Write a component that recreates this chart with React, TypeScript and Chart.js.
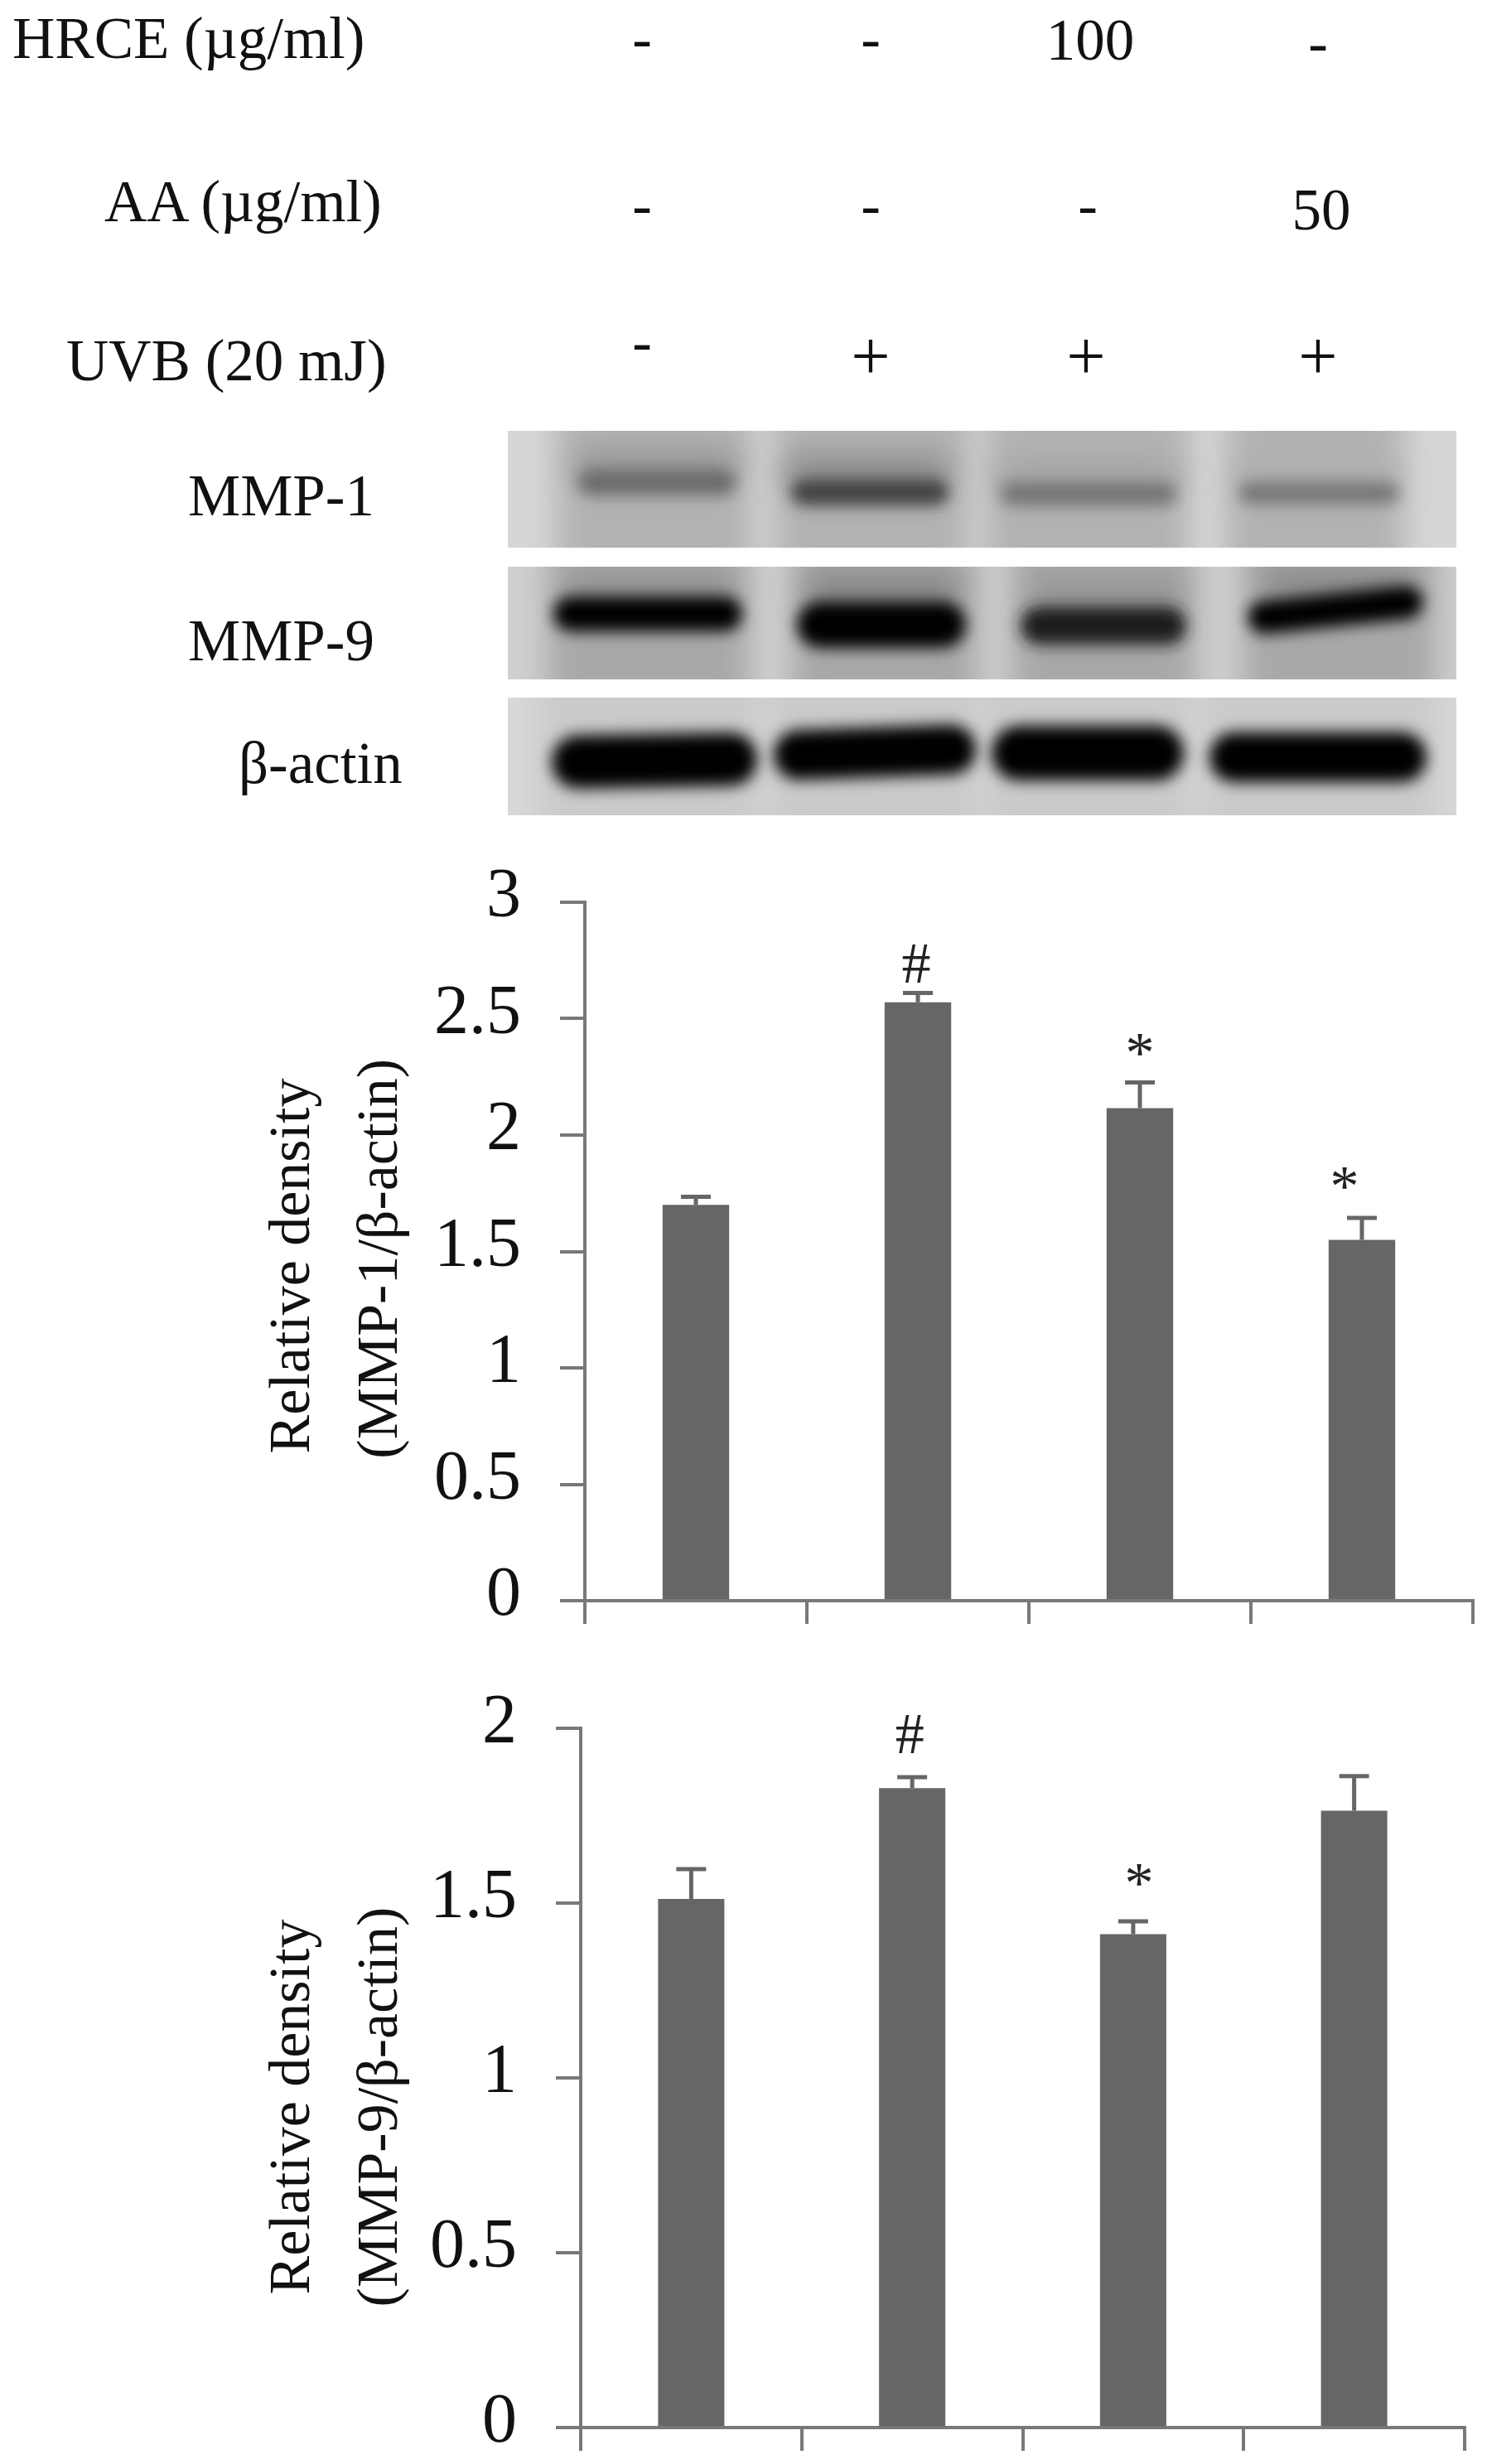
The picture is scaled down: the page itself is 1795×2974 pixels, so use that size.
import React, { useEffect, useRef } from "react";
import { Chart, registerables } from "chart.js";

Chart.register(...registerables);

const SERIF = '"Liberation Serif", "Times New Roman", serif';

const treatments = ["Control", "UVB", "UVB + HRCE", "UVB + AA"];

const mmp1Values = [1.7, 2.57, 2.116, 1.55];
const mmp1ErrorTops = [1.735, 2.61, 2.226, 1.644];
const mmp1Marks = ["", "#", "*", "*"];
const mmp1MarkLevels = [0, 2.719, 2.335, 1.762];
const mmp1MarkShift = [0, -2, 0, -21];
const mmp1Ticks = [0, 0.5, 1, 1.5, 2, 2.5, 3];
const mmp1Title = ["Relative density", "(MMP-1/β-actin)"];

const mmp9Values = [1.512, 1.829, 1.411, 1.764];
const mmp9ErrorTops = [1.597, 1.86, 1.448, 1.863];
const mmp9Marks = ["", "#", "*", ""];
const mmp9MarkLevels = [0, 1.972, 1.547, 0];
const mmp9MarkShift = [0, -3, 7, 0];
const mmp9Ticks = [0, 0.5, 1, 1.5, 2];
const mmp9Title = ["Relative density", "(MMP-9/β-actin)"];

const hrceRow = ["-", "-", "100", "-"];
const aaRow = ["-", "-", "-", "50"];
const uvbRow = ["-", "+", "+", "+"];

type Labels = { x: number; y: number; t: string; size?: number; anchor?: string };

const topTexts: Labels[] = [
  { x: 15, y: 70, t: "HRCE (µg/ml)" },
  { x: 126, y: 267, t: "AA (µg/ml)" },
  { x: 80, y: 459, t: "UVB (20 mJ)" },
  { x: 227, y: 622, t: "MMP-1" },
  { x: 227, y: 797, t: "MMP-9" },
  { x: 288, y: 945, t: "β-actin" },
  { x: 775, y: 70, t: hrceRow[0], anchor: "middle" },
  { x: 1051, y: 70, t: hrceRow[1], anchor: "middle" },
  { x: 1316, y: 72, t: hrceRow[2], anchor: "middle" },
  { x: 1591, y: 75, t: hrceRow[3], anchor: "middle" },
  { x: 775, y: 271, t: aaRow[0], anchor: "middle" },
  { x: 1051, y: 271, t: aaRow[1], anchor: "middle" },
  { x: 1313, y: 271, t: aaRow[2], anchor: "middle" },
  { x: 1595, y: 277, t: aaRow[3], anchor: "middle" },
  { x: 775, y: 436, t: uvbRow[0], anchor: "middle" },
  { x: 1051, y: 458, t: uvbRow[1], anchor: "middle", size: 84 },
  { x: 1311, y: 458, t: uvbRow[2], anchor: "middle", size: 84 },
  { x: 1591, y: 458, t: uvbRow[3], anchor: "middle", size: 84 },
];

type Band = { x: number; y: number; w: number; h: number; c: string; tilt?: number };
type Panel = { y: number; h: number; bg: string; smear: string; lanes: number[][]; halo: Band[]; bands: Band[] };

const panels: Panel[] = [
  {
    y: 520, h: 141, bg: "#d6d6d6", smear: "#b2b2b2",
    lanes: [[672, 235], [935, 235], [1190, 245], [1480, 215]],
    halo: [
      { x: 695, y: 545, w: 195, h: 32, c: "#939393" },
      { x: 950, y: 552, w: 195, h: 34, c: "#858585" },
      { x: 1205, y: 560, w: 215, h: 30, c: "#a0a0a0" },
      { x: 1492, y: 566, w: 195, h: 26, c: "#acacac" },
    ],
    bands: [
      { x: 698, y: 566, w: 190, h: 32, c: "#6c6c6c" },
      { x: 955, y: 578, w: 190, h: 32, c: "#424242" },
      { x: 1208, y: 582, w: 212, h: 28, c: "#747474" },
      { x: 1496, y: 582, w: 192, h: 26, c: "#767676" },
    ],
  },
  {
    y: 684, h: 136, bg: "#d0d0d0", smear: "#a8a8a8",
    lanes: [[660, 245], [955, 225], [1220, 225], [1500, 235]],
    halo: [
      { x: 685, y: 695, w: 200, h: 30, c: "#8c8c8c" },
      { x: 975, y: 695, w: 180, h: 36, c: "#808080" },
      { x: 1245, y: 700, w: 180, h: 32, c: "#909090" },
      { x: 1525, y: 690, w: 180, h: 28, c: "#808080" },
    ],
    bands: [
      { x: 668, y: 720, w: 228, h: 42, c: "#000000" },
      { x: 962, y: 726, w: 204, h: 56, c: "#000000" },
      { x: 1232, y: 732, w: 200, h: 46, c: "#1c1c1c" },
      { x: 1506, y: 716, w: 212, h: 40, c: "#000000", tilt: -6 },
    ],
  },
  {
    y: 842, h: 142, bg: "#d8d8d8", smear: "#cacaca",
    lanes: [[650, 270], [925, 260], [1185, 255], [1450, 285]],
    halo: [],
    bands: [
      { x: 666, y: 886, w: 248, h: 64, c: "#000000", tilt: -1 },
      { x: 934, y: 878, w: 244, h: 60, c: "#000000", tilt: -2 },
      { x: 1197, y: 876, w: 232, h: 66, c: "#000000" },
      { x: 1460, y: 884, w: 262, h: 60, c: "#000000" },
    ],
  },
];

function TopFigure() {
  return (
    <svg width={1795} height={1030} style={{ position: "absolute", left: 0, top: 0 }}>
      <defs>
        <filter id="soft" filterUnits="userSpaceOnUse" x="0" y="480" width="1795" height="550">
          <feGaussianBlur stdDeviation="9" />
        </filter>
        <filter id="softer" filterUnits="userSpaceOnUse" x="0" y="480" width="1795" height="550">
          <feGaussianBlur stdDeviation="18" />
        </filter>
        {panels.map((p, i) => (
          <clipPath id={`panel${i}`} key={i}>
            <rect x={613} y={p.y} width={1145} height={p.h} />
          </clipPath>
        ))}
      </defs>
      {panels.map((p, i) => (
        <g clipPath={`url(#panel${i})`} key={i}>
          <rect x={613} y={p.y} width={1145} height={p.h} fill={p.bg} />
          {p.lanes.map((l, j) => (
            <rect key={j} x={l[0]} y={p.y - 40} width={l[1]} height={p.h + 80} fill={p.smear} filter="url(#softer)" />
          ))}
          {p.halo.map((b, j) => (
            <rect key={j} x={b.x} y={b.y} width={b.w} height={b.h} fill={b.c} filter="url(#softer)" />
          ))}
          {p.bands.map((b, j) => (
            <rect
              key={j}
              x={b.x}
              y={b.y}
              width={b.w}
              height={b.h}
              rx={b.h / 2}
              fill={b.c}
              filter="url(#soft)"
              transform={b.tilt ? `rotate(${b.tilt} ${b.x + b.w / 2} ${b.y + b.h / 2})` : undefined}
            />
          ))}
        </g>
      ))}
      {topTexts.map((t, i) => (
        <text
          key={i}
          x={t.x}
          y={t.y}
          textAnchor={(t.anchor as any) || "start"}
          fontFamily={SERIF}
          fontSize={t.size || 71}
          fill="#111111"
        >
          {t.t}
        </text>
      ))}
    </svg>
  );
}

type PanelChartProps = {
  top: number;
  height: number;
  areaTop: number;
  areaBottom: number;
  areaLeft: number;
  areaRight: number;
  values: number[];
  errorTops: number[];
  marks: string[];
  markLevels: number[];
  markShift: number[];
  ticks: number[];
  title: string[];
  titleSpaces: number[];
};

function PanelChart(props: PanelChartProps) {
  const ref = useRef<HTMLCanvasElement | null>(null);
  useEffect(() => {
    if (!ref.current) return;
    const axisGrey = "#787878";
    const barGrey = "#666666";
    const overlay = {
      id: "errorsAndMarks",
      afterDatasetsDraw(chart: any) {
        const ctx = chart.ctx;
        const y = chart.scales.y;
        const bars = chart.getDatasetMeta(0).data;
        ctx.save();
        ctx.strokeStyle = barGrey;
        ctx.lineWidth = 5;
        props.errorTops.forEach((v, i) => {
          const px = bars[i].x;
          const top = y.getPixelForValue(v);
          ctx.beginPath();
          ctx.moveTo(px, y.getPixelForValue(props.values[i]));
          ctx.lineTo(px, top);
          ctx.moveTo(px - 18, top);
          ctx.lineTo(px + 18, top);
          ctx.stroke();
        });
        ctx.fillStyle = "#222222";
        ctx.font = `70px ${SERIF}`;
        ctx.textAlign = "center";
        ctx.textBaseline = "middle";
        props.marks.forEach((m, i) => {
          if (m) ctx.fillText(m, bars[i].x + props.markShift[i], y.getPixelForValue(props.markLevels[i]));
        });
        ctx.restore();
      },
    };
    const chart = new Chart(ref.current, {
      type: "bar",
      data: {
        labels: treatments,
        datasets: [
          {
            data: props.values,
            backgroundColor: barGrey,
            borderWidth: 0,
            barPercentage: 0.3,
            categoryPercentage: 1,
          },
        ],
      },
      options: {
        animation: false,
        responsive: false,
        devicePixelRatio: 1,
        layout: {
          padding: {
            top: props.areaTop - props.top,
            right: 1795 - props.areaRight,
            left: 0,
            bottom: 0,
          },
        },
        plugins: { legend: { display: false }, tooltip: { enabled: false }, title: { display: false } },
        scales: {
          x: {
            type: "category",
            offset: true,
            ticks: { display: false },
            border: { color: axisGrey, width: 4 },
            grid: {
              offset: true,
              drawOnChartArea: false,
              drawTicks: true,
              tickLength: 28,
              tickColor: axisGrey,
              tickWidth: 4,
              color: axisGrey,
              lineWidth: 4,
            },
            afterFit(scale: any) {
              scale.height = props.top + props.height - props.areaBottom;
              scale.paddingLeft = 0;
              scale.paddingRight = 0;
            },
          },
          y: {
            type: "linear",
            min: props.ticks[0],
            max: props.ticks[props.ticks.length - 1],
            afterBuildTicks(scale: any) {
              scale.ticks = props.ticks.map((value) => ({ value }));
            },
            ticks: {
              autoSkip: false,
              padding: 47,
              labelOffset: -5,
              color: "#111111",
              font: { family: SERIF, size: 84 },
              callback: (v: any) => String(v),
            },
            title: {
              display: true,
              text: props.title.map((t, i) => t + " ".repeat(props.titleSpaces[i])),
              color: "#111111",
              font: { family: SERIF, size: 70, lineHeight: 106 / 70 },
              padding: { top: 302, bottom: 0 },
            },
            border: { color: axisGrey, width: 4 },
            grid: {
              drawOnChartArea: false,
              drawTicks: true,
              tickLength: 30,
              tickColor: axisGrey,
              tickWidth: 4,
              color: axisGrey,
              lineWidth: 4,
            },
            afterFit(scale: any) {
              scale.width = props.areaLeft;
              scale.paddingTop = 0;
              scale.paddingBottom = 0;
            },
          },
        },
      },
      plugins: [overlay],
    } as any);
    return () => chart.destroy();
  }, []);
  return (
    <canvas
      ref={ref}
      width={1795}
      height={props.height}
      style={{ position: "absolute", left: 0, top: props.top, width: 1795, height: props.height }}
    />
  );
}

export default function App() {
  useEffect(() => {
    document.body.style.margin = "0";
    document.body.style.background = "#ffffff";
  }, []);
  return (
    <div style={{ position: "absolute", left: 0, top: 0, width: 1795, height: 2974, overflow: "hidden", background: "#ffffff" }}>
      <TopFigure />
      <PanelChart
        top={1040}
        height={940}
        areaTop={1089}
        areaBottom={1932}
        areaLeft={706}
        areaRight={1778}
        values={mmp1Values}
        errorTops={mmp1ErrorTops}
        marks={mmp1Marks}
        markLevels={mmp1MarkLevels}
        markShift={mmp1MarkShift}
        ticks={mmp1Ticks}
        title={mmp1Title}
        titleSpaces={[2, 1]}
      />
      <PanelChart
        top={2040}
        height={934}
        areaTop={2086}
        areaBottom={2930}
        areaLeft={701}
        areaRight={1768}
        values={mmp9Values}
        errorTops={mmp9ErrorTops}
        marks={mmp9Marks}
        markLevels={mmp9MarkLevels}
        markShift={mmp9MarkShift}
        ticks={mmp9Ticks}
        title={mmp9Title}
        titleSpaces={[4, 4]}
      />
    </div>
  );
}
